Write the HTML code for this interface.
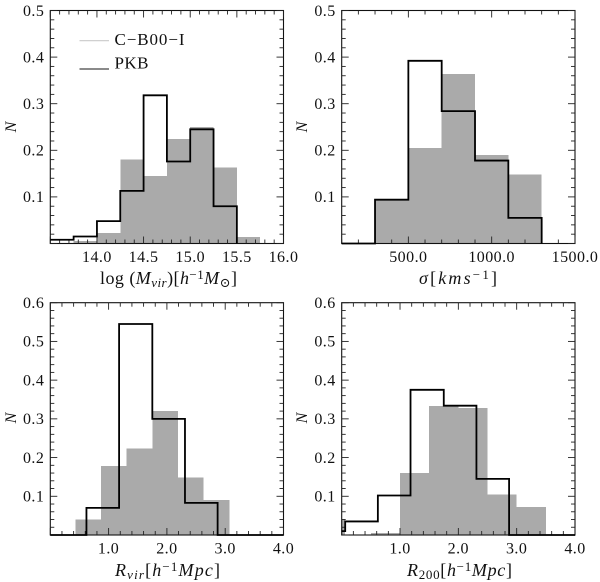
<!DOCTYPE html>
<html lang="en">
<head>
<meta charset="utf-8">
<title>Histograms</title>
<style>
html,body{margin:0;padding:0;background:#fff;width:600px;height:582px;overflow:hidden}
svg{display:block}
text{font-family:"Liberation Serif","DejaVu Serif",serif;fill:#111;font-size:18px}
.t{font-size:16px;letter-spacing:.45px}
.n{font-size:16px}
.l{font-size:17px}
.i{font-style:italic}
.s{font-size:13px}
</style>
</head>
<body>
<svg id="chart" xmlns="http://www.w3.org/2000/svg" width="600" height="582" viewBox="0 0 600 582">
  <g id="plots"></g>
  <g>
    <line x1="79.5" x2="109" y1="40.7" y2="40.7" stroke="#c9c9c9" stroke-width="1.2"/>
    <text class="l" x="114.5" y="45" textLength="70" lengthAdjust="spacing">C−B00−I</text>
    <line x1="79.5" x2="109" y1="69" y2="69" stroke="#444" stroke-width="1.3"/>
    <text class="l" x="114.5" y="68.5" textLength="34" lengthAdjust="spacing">PKB</text>
  </g>
  <text x="100" y="284" textLength="137" lengthAdjust="spacing">log (<tspan class="i">M</tspan><tspan class="i s" dy="3">vir</tspan><tspan dy="-3">)[</tspan><tspan class="i">h</tspan><tspan class="s" dy="-5">−1</tspan><tspan class="i" dy="5">M</tspan><tspan class="s" dy="3">⊙</tspan><tspan dy="-3">]</tspan></text>
  <text x="419" y="284" textLength="78" lengthAdjust="spacing"><tspan class="i">σ</tspan>[<tspan class="i">kms</tspan><tspan class="s" dy="-5">−1</tspan><tspan dy="5">]</tspan></text>
  <text x="115" y="576" textLength="105" lengthAdjust="spacing"><tspan class="i">R</tspan><tspan class="i s" dy="3">vir</tspan><tspan dy="-3">[</tspan><tspan class="i">h</tspan><tspan class="s" dy="-5">−1</tspan><tspan class="i" dy="5">Mpc</tspan>]</text>
  <text x="407" y="576" textLength="105" lengthAdjust="spacing"><tspan class="i">R</tspan><tspan class="s" dy="3">200</tspan><tspan dy="-3">[</tspan><tspan class="i">h</tspan><tspan class="s" dy="-5">−1</tspan><tspan class="i" dy="5">Mpc</tspan>]</text>
  <text class="i n" transform="translate(16,127) rotate(-90)" text-anchor="middle">N</text>
  <text class="i n" transform="translate(307,127) rotate(-90)" text-anchor="middle">N</text>
  <text class="i n" transform="translate(16,418) rotate(-90)" text-anchor="middle">N</text>
  <text class="i n" transform="translate(307,418) rotate(-90)" text-anchor="middle">N</text>
</svg>
<script>
// Panel 1: virial mass
var massEdgesGray = [13.75, 14.0, 14.25, 14.5, 14.75, 15.0, 15.25, 15.5, 15.75];
var massGray = [0.005, 0.022, 0.18, 0.145, 0.224, 0.25, 0.163, 0.014];
var massEdgesLine = [13.5, 13.75, 14.0, 14.25, 14.5, 14.75, 15.0, 15.25, 15.5];
var massLine = [0.008, 0.015, 0.048, 0.113, 0.318, 0.176, 0.245, 0.08];
var massTicks = ['14.0', '14.5', '15.0', '15.5', '16.0'];

// Panel 2: velocity dispersion
var sigmaEdgesGray = [300, 500, 700, 900, 1100, 1300];
var sigmaGray = [0.094, 0.205, 0.364, 0.19, 0.148];
var sigmaEdgesLine = [100, 300, 500, 700, 900, 1100, 1300];
var sigmaLine = [0, 0.094, 0.392, 0.284, 0.178, 0.055];
var sigmaTicks = ['500.0', '1000.0', '1500.0'];

// Panel 3: virial radius
var rvirEdgesGray = [0.43, 0.87, 1.31, 1.75, 2.19, 2.63, 3.07];
var rvirGray = [0.04, 0.178, 0.224, 0.32, 0.148, 0.09];
var rvirEdgesLine = [0, 0.62, 1.18, 1.75, 2.31, 2.87, 4.0];
var rvirLine = [0, 0.07, 0.545, 0.30, 0.083, 0];
var rvirTicks = ['1.0', '2.0', '3.0', '4.0'];

// Panel 4: R200
var r200EdgesGray = [0, 0.06, 0.5, 1.0, 1.5, 2.0, 2.5, 3.0, 3.5];
var r200Gray = [0.04, 0, 0.005, 0.16, 0.333, 0.328, 0.105, 0.072];
var r200EdgesLine = [0, 0.06, 0.62, 1.18, 1.75, 2.31, 2.87, 4.0];
var r200Line = [0.01, 0.035, 0.102, 0.375, 0.334, 0.145, 0];
var r200Ticks = ['1.0', '2.0', '3.0', '4.0'];

var yTicksShort = ['0.1', '0.2', '0.3', '0.4', '0.5'];
var yTicksTall = ['0.1', '0.2', '0.3', '0.4', '0.5', '0.6'];

var NS = 'http://www.w3.org/2000/svg';
var plots = document.getElementById('plots');

function make(tag, attrs, parent) {
  var el = document.createElementNS(NS, tag);
  for (var k in attrs) { el.setAttribute(k, attrs[k]); }
  parent.appendChild(el);
  return el;
}

function drawPanel(p) {
  var g = make('g', {}, plots);
  
  

  var sx = function (v) { return p.left + (v - p.xMin) / (p.xMax - p.xMin) * (p.right - p.left); };
  var sy = function (v) { return p.bottom - v / p.yMax * (p.bottom - p.top); };

  // gray histogram
  p.gray.forEach(function (v, i) {
    var x0 = sx(p.grayEdges[i]);
    var x1 = sx(p.grayEdges[i + 1]);
    var bar = make('rect', { x: x0, y: sy(v), width: x1 - x0, height: p.bottom - sy(v), fill: '#aaaaaa', 'shape-rendering': 'crispEdges' }, g);
    
    
  });

  // frame
  var frame = make('rect', { x: p.left, y: p.top, width: p.right - p.left, height: p.bottom - p.top, fill: 'none', stroke: '#111', 'stroke-width': 1.1 }, g);
  
  

  // x ticks
  var nx = Math.round((p.xMax - p.xMin) / p.xMinor);
  for (var i = 0; i <= nx; i++) {
    var xv = p.xMin + i * p.xMinor;
    var xr = xv / p.xMajor;
    var major = Math.abs(xr - Math.round(xr)) < 1e-6;
    var len = major ? 7 : 4;
    [[p.bottom, p.bottom - len], [p.top, p.top + len]].forEach(function (e) {
      var t = make('line', { x1: sx(xv), x2: sx(xv), y1: e[0], y2: e[1], stroke: '#222', 'stroke-width': 0.9 }, g);
      
      
    });
  }

  // y ticks
  var ny = Math.round(p.yMax / 0.02);
  for (var j = 0; j <= ny; j++) {
    var yv = j * 0.02;
    var ymajor = j % 5 === 0;
    var ylen = ymajor ? 7 : 4;
    [[p.left, p.left + ylen], [p.right, p.right - ylen]].forEach(function (e) {
      var t = make('line', { x1: e[0], x2: e[1], y1: sy(yv), y2: sy(yv), stroke: '#222', 'stroke-width': 0.9 }, g);
      
      
    });
  }

  // PKB step line
  var d = 'M' + sx(p.lineEdges[0]) + ' ' + sy(p.line[0]);
  p.line.forEach(function (v, i) {
    d += 'L' + sx(p.lineEdges[i]) + ' ' + sy(v) + 'L' + sx(p.lineEdges[i + 1]) + ' ' + sy(v);
  });
  d += 'L' + sx(p.lineEdges[p.lineEdges.length - 1]) + ' ' + sy(0);
  var path = make('path', { d: d, fill: 'none', stroke: '#000', 'stroke-width': 1.8 }, g);
  
  

  // x labels
  p.xLabels.forEach(function (s) {
    var t = make('text', { x: sx(parseFloat(s)), y: p.bottom + 18.5, 'text-anchor': 'middle', 'class': 't' }, g);
    t.textContent = s;
    
    
  });

  // y labels
  p.yLabels.forEach(function (s) {
    var t = make('text', { x: p.left - 6, y: sy(parseFloat(s)) + 5.3, 'text-anchor': 'end', 'class': 't' }, g);
    t.textContent = s;
    
    
  });
}

drawPanel({ name: 'mass', left: 50.3, right: 283.5, top: 10.5, bottom: 243.5, xMin: 13.5, xMax: 16, yMax: 0.5, xMinor: 0.1, xMajor: 0.5,
  grayEdges: massEdgesGray, gray: massGray, lineEdges: massEdgesLine, line: massLine, xLabels: massTicks, yLabels: yTicksShort });
drawPanel({ name: 'sigma', left: 341.7, right: 575, top: 10.5, bottom: 243.5, xMin: 100, xMax: 1500, yMax: 0.5, xMinor: 100, xMajor: 500,
  grayEdges: sigmaEdgesGray, gray: sigmaGray, lineEdges: sigmaEdgesLine, line: sigmaLine, xLabels: sigmaTicks, yLabels: yTicksShort });
drawPanel({ name: 'rvir', left: 50.3, right: 283.5, top: 302.7, bottom: 535, xMin: 0, xMax: 4, yMax: 0.6, xMinor: 0.2, xMajor: 1,
  grayEdges: rvirEdgesGray, gray: rvirGray, lineEdges: rvirEdgesLine, line: rvirLine, xLabels: rvirTicks, yLabels: yTicksTall });
drawPanel({ name: 'r200', left: 341.7, right: 575, top: 302.7, bottom: 535, xMin: 0, xMax: 4, yMax: 0.6, xMinor: 0.2, xMajor: 1,
  grayEdges: r200EdgesGray, gray: r200Gray, lineEdges: r200EdgesLine, line: r200Line, xLabels: r200Ticks, yLabels: yTicksTall });
</script>
</body>
</html>
